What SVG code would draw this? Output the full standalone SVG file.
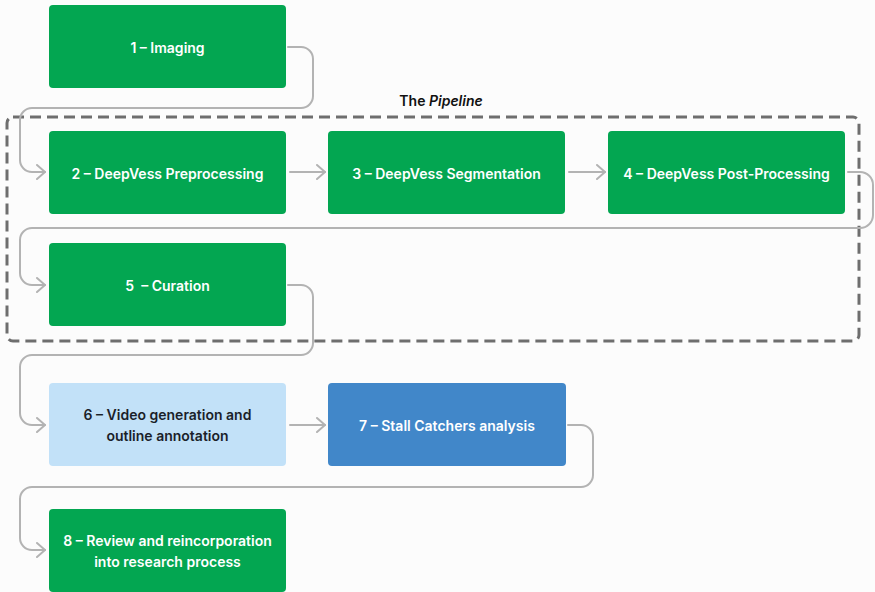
<svg xmlns="http://www.w3.org/2000/svg" width="875" height="592" viewBox="0 0 875 592">
<style>
.n{stroke:none}
.g{fill:#03a651}
.t{font-family:Inter,"Liberation Sans",sans-serif;font-weight:600;font-size:14px;text-anchor:middle;dominant-baseline:central;fill:#ffffff}
.dk{fill:#1b1f2a}
.c{fill:none;stroke:#b3b3b3;stroke-width:2;stroke-linecap:round;stroke-linejoin:round}
</style>
<defs>
<marker id="ah" viewBox="0 0 10 16" refX="9" refY="8" markerWidth="10" markerHeight="16" markerUnits="userSpaceOnUse" orient="auto">
<path d="M1,1 L9,8 L1,15" fill="none" stroke="#b3b3b3" stroke-width="2" stroke-linecap="round" stroke-linejoin="round"/>
</marker>
</defs>
<rect width="875" height="592" fill="#fcfcfc"/>
<g id="pipeline">
<rect x="7" y="117" width="852" height="224" rx="6" fill="none" stroke="#6e6e6e" stroke-width="3" stroke-dasharray="11 6"/>
<text x="441" y="100" font-family="Inter,'Liberation Sans',sans-serif" font-weight="600" font-size="14" text-anchor="middle" dominant-baseline="central" fill="#111">The <tspan font-style="italic">Pipeline</tspan></text>
</g>
<g id="connectors">
<path class="c" marker-end="url(#ah)" d="M288,47 H301 A12,12 0 0 1 313,59 V96 A12,12 0 0 1 301,108 H32 A12,12 0 0 0 20,120 V160 A12,12 0 0 0 32,172 H45"/>
<path class="c" marker-end="url(#ah)" d="M290,172 H325"/>
<path class="c" marker-end="url(#ah)" d="M569,172 H605"/>
<path class="c" marker-end="url(#ah)" d="M848,172 H860 A13,13 0 0 1 873,185 V215 A13,13 0 0 1 860,228 H32 A12,12 0 0 0 20,240 V273 A12,12 0 0 0 32,285 H45"/>
<path class="c" marker-end="url(#ah)" d="M288,285 H301 A12,12 0 0 1 313,297 V343 A12,12 0 0 1 301,355 H32 A12,12 0 0 0 20,367 V413 A12,12 0 0 0 32,425 H45"/>
<path class="c" marker-end="url(#ah)" d="M290,425 H325"/>
<path class="c" d="M568,425 H581 A12,12 0 0 1 593,437 V475 A12,12 0 0 1 581,487 H32 A12,12 0 0 0 20,499 V538 A12,12 0 0 0 32,550 H45" marker-end="url(#ah)"/>
</g>
<g id="node1"><rect class="g" x="49" y="5" width="237" height="83" rx="4"/><text class="t" x="167.5" y="47">1 – Imaging</text></g>
<g id="node2"><rect class="g" x="49" y="131" width="237" height="83" rx="4"/><text class="t" x="167.5" y="173">2 – DeepVess Preprocessing</text></g>
<g id="node3"><rect class="g" x="328" y="131" width="237" height="83" rx="4"/><text class="t" x="446.5" y="173">3 – DeepVess Segmentation</text></g>
<g id="node4"><rect class="g" x="608" y="131" width="237" height="83" rx="4"/><text class="t" x="726.5" y="173">4 – DeepVess Post-Processing</text></g>
<g id="node5"><rect class="g" x="49" y="243" width="237" height="83" rx="4"/><text class="t" x="167.5" y="285" xml:space="preserve">5  – Curation</text></g>
<g id="node6"><rect x="49" y="383" width="237" height="83" rx="4" fill="#c2e1f8"/><text class="t dk" x="167.5" y="414">6 – Video generation and</text><text class="t dk" x="167.5" y="435">outline annotation</text></g>
<g id="node7"><rect x="328" y="383" width="238" height="83" rx="4" fill="#4187c9"/><text class="t" x="447" y="425">7 – Stall Catchers analysis</text></g>
<g id="node8"><rect class="g" x="49" y="509" width="237" height="83" rx="4"/><text class="t" x="167.5" y="540">8 – Review and reincorporation</text><text class="t" x="167.5" y="561">into research process</text></g>
</svg>
